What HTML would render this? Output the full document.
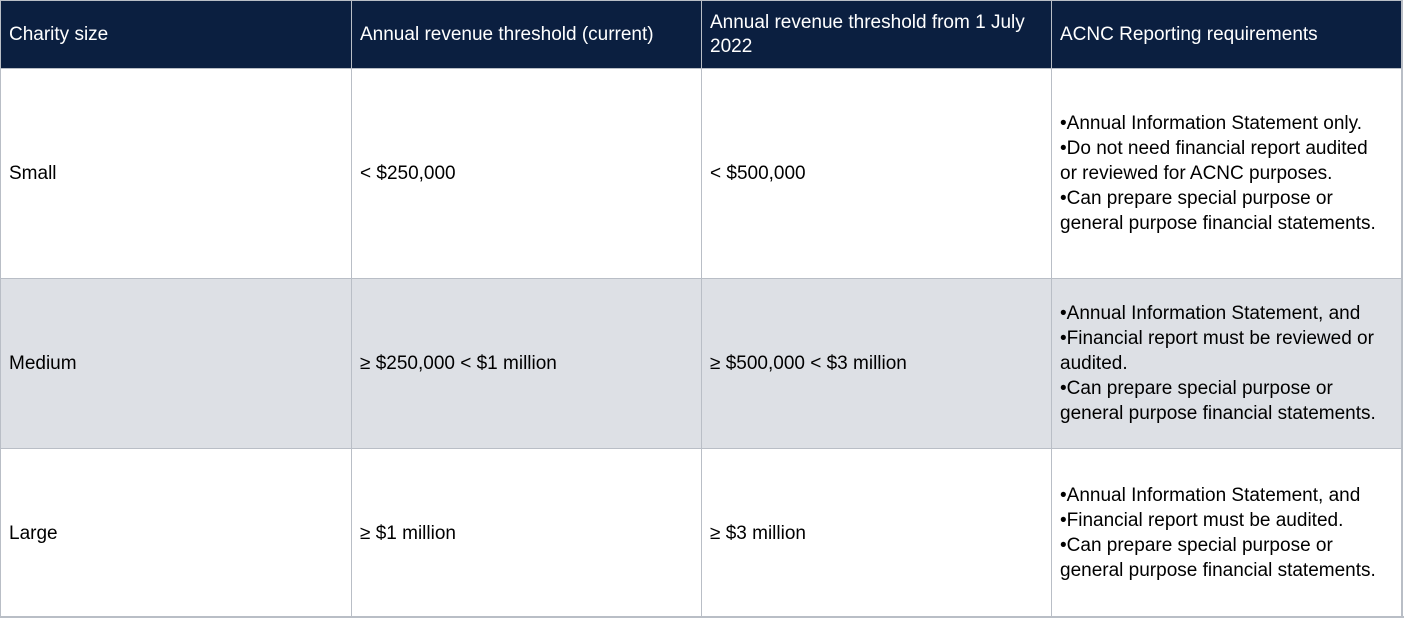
<!DOCTYPE html>
<html><head><meta charset="utf-8"><style>
body{margin:0;width:1404px;height:619px;background:#fff;overflow:hidden;font-family:"Liberation Sans",sans-serif;font-size:19px;color:#000}
.c{position:absolute;box-sizing:border-box;display:flex;align-items:center;padding:0 8px;line-height:25px;border-left:1px solid #b9bec6;border-top:1px solid #b9bec6;white-space:nowrap}
.h{background:#0b1f40;color:#fff;line-height:24px}
.g{background:#dde0e5}
.r{position:absolute;left:1401px;top:0;width:2px;height:618px;background:#b9bec6}
.b{position:absolute;left:0;top:616px;width:1404px;height:2px;background:#b9bec6}
</style></head><body>
<div class="c h" style="left:0;top:0;width:351px;height:69px">Charity size</div>
<div class="c h" style="left:351px;top:0;width:350px;height:69px">Annual revenue threshold (current)</div>
<div class="c h" style="left:701px;top:0;width:350px;height:69px"><div>Annual revenue threshold from 1 July<br>2022</div></div>
<div class="c h" style="left:1051px;top:0;width:351px;height:69px">ACNC Reporting requirements</div>

<div class="c" style="left:0;top:68px;width:351px;height:210px">Small</div>
<div class="c" style="left:351px;top:68px;width:350px;height:210px">&lt; $250,000</div>
<div class="c" style="left:701px;top:68px;width:350px;height:210px">&lt; $500,000</div>
<div class="c" style="left:1051px;top:68px;width:351px;height:210px"><div>•Annual Information Statement only.<br>•Do not need financial report audited<br>or reviewed for ACNC purposes.<br>•Can prepare special purpose or<br>general purpose financial statements.</div></div>

<div class="c g" style="left:0;top:278px;width:351px;height:170px">Medium</div>
<div class="c g" style="left:351px;top:278px;width:350px;height:170px">≥ $250,000 &lt; $1 million</div>
<div class="c g" style="left:701px;top:278px;width:350px;height:170px">≥ $500,000 &lt; $3 million</div>
<div class="c g" style="left:1051px;top:278px;width:351px;height:170px"><div>•Annual Information Statement, and<br>•Financial report must be reviewed or<br>audited.<br>•Can prepare special purpose or<br>general purpose financial statements.</div></div>

<div class="c" style="left:0;top:448px;width:351px;height:169px">Large</div>
<div class="c" style="left:351px;top:448px;width:350px;height:169px">≥ $1 million</div>
<div class="c" style="left:701px;top:448px;width:350px;height:169px">≥ $3 million</div>
<div class="c" style="left:1051px;top:448px;width:351px;height:169px"><div>•Annual Information Statement, and<br>•Financial report must be audited.<br>•Can prepare special purpose or<br>general purpose financial statements.</div></div>
<div class="r"></div><div class="b"></div>
</body></html>
